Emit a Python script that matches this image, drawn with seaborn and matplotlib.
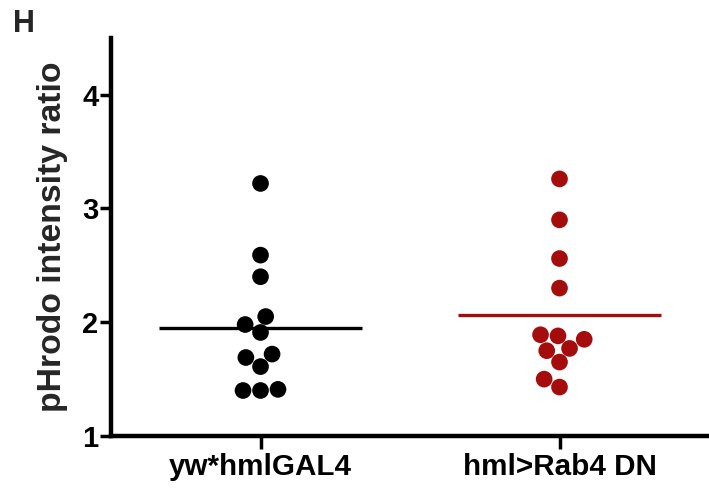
import numpy as np
import pandas as pd
import matplotlib
matplotlib.use("Agg")
import matplotlib.pyplot as plt
import seaborn as sns

# values
groups = ["yw*hmlGAL4", "hml>Rab4 DN"]
control = [3.22, 2.59, 2.40, 2.05, 1.91, 1.98, 1.69, 1.72, 1.61, 1.41, 1.40, 1.40]
rab4_dn = [3.26, 2.90, 2.56, 2.30, 1.88, 1.85, 1.75, 1.89, 1.77, 1.65, 1.43, 1.50]
colors = ["#000000", "#A50D0D"]

df = pd.DataFrame({
    "group": [groups[0]] * len(control) + [groups[1]] * len(rab4_dn),
    "ratio": control + rab4_dn,
})

sns.set_style("ticks")
plt.rcParams["font.family"] = ["Liberation Sans", "DejaVu Sans"]
plt.rcParams["font.weight"] = "bold"

fig = plt.figure(figsize=(7.09, 4.94), dpi=100)
ax = fig.add_axes([0.1566, 0.1174, 0.8434, 0.806])

sns.swarmplot(data=df, x="group", y="ratio", hue="group", palette=colors,
              order=groups, size=12, legend=False, ax=ax, linewidth=0)

# mean lines
for i, vals in enumerate([control, rab4_dn]):
    ax.hlines(np.mean(vals), i - 0.34, i + 0.34, color=colors[i], lw=2.4, zorder=1)

ax.set_xlim(-0.5, 1.5)
ax.set_ylim(1, 4.5)
ax.set_yticks([1, 2, 3, 4])
ax.set_xlabel("")
ax.set_ylabel("pHrodo intensity ratio", fontsize=24.3, fontweight="bold")
ax.yaxis.set_label_coords(-0.072, 0.5)

sns.despine(ax=ax)
for s in ["left", "bottom"]:
    ax.spines[s].set_linewidth(3.2)
    ax.spines[s].set_color("black")
ax.tick_params(axis="y", length=8, width=2.5, labelsize=21, pad=1, colors="black")
ax.tick_params(axis="x", length=9, width=2.5, labelsize=21.3, pad=3, colors="black")
for lab in ax.get_xticklabels() + ax.get_yticklabels():
    lab.set_fontweight("bold")

fig.text(0.018, 0.935, "H", fontsize=22, fontweight="bold", ha="left", va="baseline")

fig.savefig("out.png", dpi=100)
